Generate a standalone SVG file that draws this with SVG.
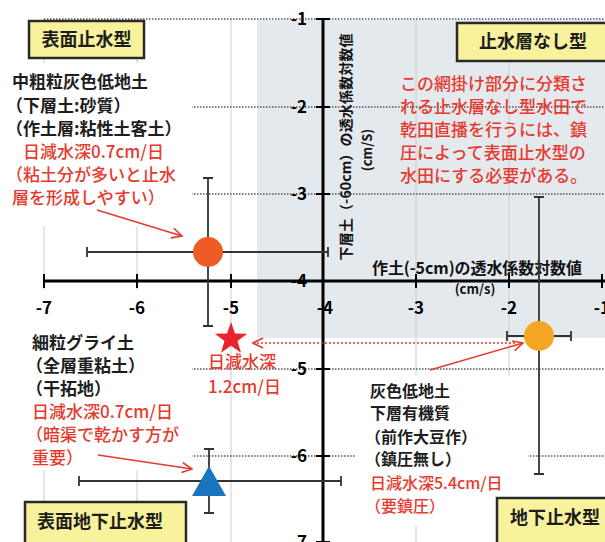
<svg xmlns="http://www.w3.org/2000/svg" width="605" height="542" viewBox="0 0 605 542">
<style>
text { font-family: "Noto Sans CJK JP", "Noto Sans CJK SC", sans-serif; }
.blk { font-size:17px; font-weight:bold; fill:#1e1e1e; }
.red { font-size:17px; font-weight:500; fill:#e63a2e; }
.sm { font-size:16px; }
.box { fill:#f9f29c; stroke:#2a2a2a; stroke-width:2.5; }
.boxt { font-size:18px; font-weight:bold; fill:#1e1e1e; text-anchor:middle; }
.grid { stroke:#555; stroke-width:1.5; stroke-dasharray:1.5 1.5; }
.vgrid { stroke:#cccccc; stroke-width:1; }
.axis { stroke:#000; stroke-width:3; }
.tick { stroke:#000; stroke-width:2; }
.tlx { font-size:17px; font-weight:bold; fill:#000; text-anchor:middle; }
.tly { font-size:17px; font-weight:bold; fill:#000; text-anchor:end; }
.err { stroke:#333; stroke-width:1.8; fill:none; }
.arr { stroke:#e63a2e; stroke-width:1.5; fill:none; }
.wbg { fill:#fff; }
</style>
<defs>
<marker id="ah" viewBox="0 0 12 12" refX="11" refY="6" markerWidth="12" markerHeight="12" markerUnits="userSpaceOnUse" orient="auto">
<path d="M1,1 L11,6 L1,11" fill="none" stroke="#e63a2e" stroke-width="1.6"/>
</marker>
</defs>
<rect x="0" y="0" width="605" height="542" fill="#fff"/>
<rect x="257" y="20" width="348" height="318" fill="#e4e9ee"/>

<g id="gridlines">
<line class="vgrid" x1="44" y1="19" x2="44" y2="542"/>
<line class="vgrid" x1="137" y1="19" x2="137" y2="542"/>
<line class="vgrid" x1="231" y1="19" x2="231" y2="542"/>
<line class="vgrid" x1="416" y1="19" x2="416" y2="542"/>
<line class="vgrid" x1="509" y1="19" x2="509" y2="542"/>
<line class="grid" x1="44" y1="19" x2="605" y2="19"/>
<line class="grid" x1="44" y1="107" x2="605" y2="107"/>
<line class="grid" x1="44" y1="194" x2="605" y2="194"/>
<line class="grid" x1="44" y1="369" x2="605" y2="369"/>
<line class="grid" x1="44" y1="456" x2="605" y2="456"/>
</g>

<g id="text-backgrounds">
<rect class="wbg" x="0" y="63" width="192" height="163"/>
<rect class="wbg" x="0" y="290" width="192" height="180"/>
<rect class="wbg" x="356" y="376" width="172" height="150"/>
</g>

<g id="tick-labels">
<text class="tly" x="307" y="25">-1</text>
<text class="tly" x="307" y="113">-2</text>
<text class="tly" x="307" y="200">-3</text>
<text class="tly" x="307" y="287">-4</text>
<text class="tly" x="307" y="375">-5</text>
<text class="tly" x="307" y="462">-6</text>
<text class="tly" x="307" y="548">-7</text>
<text class="tlx" x="44" y="314">-7</text>
<text class="tlx" x="137" y="314">-6</text>
<text class="tlx" x="231" y="314">-5</text>
<text class="tlx" x="325" y="314">-4</text>
<text class="tlx" x="416" y="314">-3</text>
<text class="tlx" x="509" y="314">-2</text>
<text class="tlx" x="602" y="314">-1</text>
</g>

<g id="axes">
<line class="axis" x1="44" y1="281" x2="605" y2="281"/>
<line class="axis" x1="323" y1="19" x2="323" y2="542"/>
<path class="tick" d="M44,274V288M137,274V288M231,274V288M323,274V288M416,274V288M509,274V288M602,274V288"/>
<path class="tick" d="M316,19H330M316,107H330M316,194H330M316,281H330M316,369H330M316,456H330M316,542H330"/>
</g>

<g id="axis-titles">
<text x="372" y="274" font-size="16" font-weight="bold" fill="#111" textLength="210">作土(-5cm)の透水係数対数値</text>
<text x="475" y="294" font-size="13" font-weight="bold" fill="#111" text-anchor="middle">(cm/s)</text>
<text transform="translate(351,147) rotate(-90)" font-size="14" font-weight="bold" fill="#111" text-anchor="middle" textLength="227">下層土（-60cm）の透水係数対数値</text>
<text transform="translate(372,150) rotate(-90)" font-size="13" font-weight="bold" fill="#111" text-anchor="middle">(cm/S)</text>
</g>

<g id="point-orange">
<path class="err" d="M87,252H328M87,247V257M328,247V257M208,178V326M203,178H213M203,326H213"/>
<circle cx="208" cy="252" r="15" fill="#ef5b25"/>
</g>

<g id="point-yellow">
<path class="err" d="M507,336H571M507,331V341M571,331V341M539,197V474M534,197H544M534,474H544"/>
<circle cx="539" cy="336" r="15" fill="#f6a623"/>
</g>

<g id="point-triangle">
<path class="err" d="M79,481H341M79,476V486M341,476V486M209,449V513M204,449H214M204,513H214"/>
<polygon points="209,466 192,496 226,496" fill="#1b75bc"/>
</g>

<g id="point-star">
<polygon points="231,322 235,333.5 247.2,333.8 237.5,341.1 241,352.8 231,345.8 221,352.8 224.5,341.1 214.8,333.8 227,333.5" fill="#e8242a"/>
<text class="red" x="208" y="368">日減水深</text>
<text class="red" x="208" y="393">1.2cm/日</text>
</g>

<g id="box-surface">
<rect class="box" x="29" y="21" width="115" height="37"/>
<text class="boxt" x="86.5" y="46">表面止水型</text>
</g>
<g id="box-none">
<rect class="box" x="457" y="23" width="155" height="38"/>
<text class="boxt" x="533" y="48">止水層なし型</text>
</g>
<g id="box-surface-sub">
<rect class="box" x="25" y="502" width="161" height="48"/>
<text class="boxt" x="100" y="528">表面地下止水型</text>
</g>
<g id="box-sub">
<rect class="box" x="497" y="498" width="115" height="52"/>
<text class="boxt" x="555" y="524">地下止水型</text>
</g>

<g id="label-topleft">
<text class="blk" x="12" y="88">中粗粒灰色低地土</text>
<text class="blk" x="6" y="112">（下層土:砂質）</text>
<text class="blk" x="6" y="135">（作土層:粘性土客土）</text>
<text class="red" x="23" y="158">日減水深0.7cm/日</text>
<text class="red" x="6" y="181">（粘土分が多いと止水</text>
<text class="red" x="12" y="204">層を形成しやすい）</text>
</g>

<g id="label-bottomleft">
<text class="blk" x="32" y="349">細粒グライ土</text>
<text class="blk" x="26" y="372">（全層重粘土）</text>
<text class="blk" x="26" y="395">（干拓地）</text>
<text class="red" x="32" y="418">日減水深0.7cm/日</text>
<text class="red" x="26" y="441">（暗渠で乾かす方が</text>
<text class="red" x="32" y="464">重要）</text>
</g>

<g id="label-right">
<text class="blk sm" x="370" y="397">灰色低地土</text>
<text class="blk sm" x="370" y="419">下層有機質</text>
<text class="blk sm" x="365" y="443">（前作大豆作）</text>
<text class="blk sm" x="365" y="465">（鎮圧無し）</text>
<text class="red sm" x="370" y="489">日減水深5.4cm/日</text>
<text class="red sm" x="365" y="512">（要鎮圧）</text>
</g>

<g id="label-note">
<text class="red" x="400" y="90">この網掛け部分に分類さ</text>
<text class="red" x="400" y="113">れる止水層なし型水田で</text>
<text class="red" x="400" y="136">乾田直播を行うには、鎮</text>
<text class="red" x="400" y="159">圧によって表面止水型の</text>
<text class="red" x="400" y="182">水田にする必要がある。</text>
</g>

<g id="connectors">
<line class="arr" x1="97" y1="210" x2="182" y2="236" marker-end="url(#ah)"/>
<line class="arr" x1="98" y1="455" x2="192" y2="469" marker-end="url(#ah)"/>
<line class="arr" x1="430" y1="370" x2="523" y2="343" marker-end="url(#ah)"/>
<line class="arr" x1="515" y1="343" x2="253" y2="343" stroke-width="2" stroke-dasharray="2 2" marker-end="url(#ah)"/>
</g>
</svg>
